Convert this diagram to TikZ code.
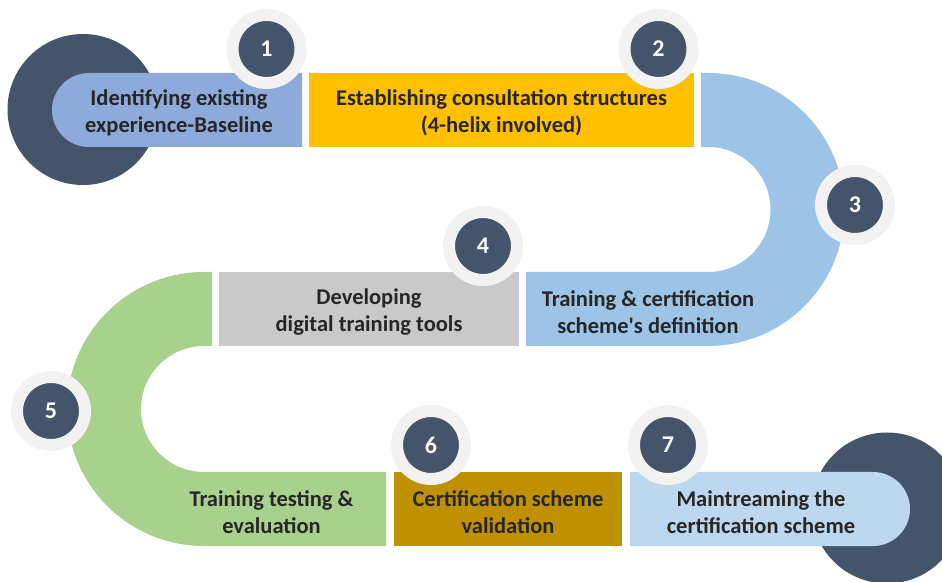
\documentclass[tikz,border=0pt]{standalone}
\usepackage{fontspec}
\setmainfont{Carlito}
\definecolor{navy}{HTML}{44546A}
\definecolor{ring}{HTML}{F2F2F2}
\definecolor{txt}{HTML}{262626}
\definecolor{bandA}{HTML}{8EAADB}
\definecolor{bandB}{HTML}{FFC000}
\definecolor{bandC}{HTML}{9DC3E6}
\definecolor{bandD}{HTML}{C9C9C9}
\definecolor{bandE}{HTML}{A9D18E}
\definecolor{bandF}{HTML}{BF9000}
\definecolor{bandG}{HTML}{BDD7EE}
\begin{document}
\begin{tikzpicture}[x=1pt,y=1pt,
  steptext/.style={font=\bfseries\fontsize{22.5}{27.5}\selectfont, text=txt, align=center, inner sep=0pt},
  badge/.style={circle, fill=navy, draw=ring, line width=12pt, minimum size=68pt, inner sep=0pt,
                text=white, font=\bfseries\fontsize{24}{28}\selectfont},
  disc/.style={fill=navy}]
\useasboundingbox (0,0) rectangle (942,581);
\clip (0,0) rectangle (942,581);

% large end discs
\fill[disc] (83,471.5) circle [radius=75.5];
\fill[disc] (887,73) circle [radius=75.5];

% row 1
\fill[bandA] (302,434) -- (89,434) arc [start angle=270, end angle=90, radius=37] -- (302,508) -- cycle;
\fill[bandB] (309,434) rectangle (694,508);

% turn on the right (step 3)
\fill[bandC] (701,508) -- (708,508) arc [start angle=90, end angle=-90, radius=136.5]
  -- (526,235) -- (526,309) -- (708,309) arc [start angle=-90, end angle=90, radius=62.5]
  -- (701,434) -- cycle;

% row 2
\fill[bandD] (219,235) rectangle (519,309);

% turn on the left (step 5)
\fill[bandE] (212,309) -- (204,309) arc [start angle=90, end angle=270, radius=137]
  -- (386,35) -- (386,109) -- (204,109) arc [start angle=270, end angle=90, radius=63]
  -- (212,235) -- cycle;

% row 3
\fill[bandF] (394,35) rectangle (622,109);
\fill[bandG] (630,35) -- (873,35) arc [start angle=-90, end angle=90, radius=37] -- (630,109) -- cycle;

% step texts
\node[steptext] (t1) at (179,468) {Identifying existing\\experience-Baseline};
\node[steptext] (t2) at (501.5,468) {Establishing consultation structures\\(4-helix involved)};
\node[steptext] (t3) at (648,269) {Training \& certification\\scheme\textquotesingle s definition};
\node[steptext] (t4) at (369,269) {Developing\\digital training tools};
\node[steptext] (t5) at (271.5,69) {Training testing \&\\evaluation};
\node[steptext] (t6) at (508,69) {Certification scheme\\validation};
\node[steptext] (t7) at (761,69) {Maintreaming the\\certification scheme};

% numbered badges
\node[badge] (b1) at (266.5,532) {1};
\node[badge] (b2) at (658.5,532) {2};
\node[badge] (b3) at (855,376) {3};
\node[badge] (b4) at (483,335) {4};
\node[badge] (b5) at (51,170) {5};
\node[badge] (b6) at (431,136) {6};
\node[badge] (b7) at (668,136) {7};
\end{tikzpicture}
\end{document}
